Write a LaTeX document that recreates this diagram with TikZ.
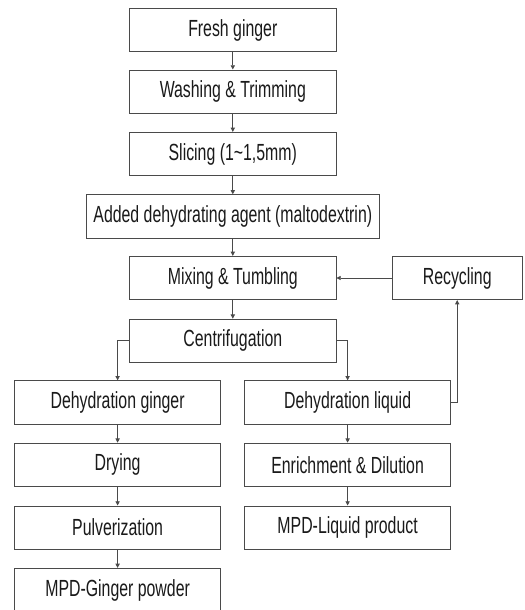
\documentclass[tikz,border=0pt]{standalone}
\usepackage{fontspec}
\setmainfont{Liberation Sans}[FakeStretch=0.68]
\usetikzlibrary{positioning, arrows.meta}
\definecolor{color_line}{HTML}{4A4A4A}
\definecolor{color_text}{HTML}{1A1A1A}
\tikzset{
  step_box/.style={draw=color_line, line width=0.7pt, fill=white, minimum width=5.16cm, minimum height=1.08cm, font=\fontsize{16.6}{18}\selectfont, text=color_text, inner sep=0pt},
  wide_box/.style={step_box, minimum width=7.32cm},
  small_box/.style={step_box, minimum width=3.24cm},
  flow_arrow/.style={-{Triangle[length=3pt, width=3pt]}, draw=color_line, line width=0.6pt},
}
\begin{document}
\begin{tikzpicture}
    \useasboundingbox (0,0) rectangle (13.1,-15.25);
    % main line
    \node[step_box] (fresh) at (5.82, -0.75) {Fresh ginger};
    \node[step_box] (wash) at (5.82, -2.29) {Washing \& Trimming};
    \node[step_box] (slice) at (5.82, -3.85) {Slicing (1\textasciitilde1,5mm)};
    \node[wide_box] (agent) at (5.82, -5.41) {Added dehydrating agent (maltodextrin)};
    \node[step_box] (mix) at (5.82, -6.95) {Mixing \& Tumbling};
    \node[small_box] (recycle) at (11.43, -6.95) {Recycling};
    \node[step_box] (centri) at (5.82, -8.52) {Centrifugation};
    % ginger side
    \node[step_box] (dgin) at (2.94, -10.06) {Dehydration ginger};
    \node[step_box] (dry) at (2.94, -11.62) {Drying};
    \node[step_box] (pulv) at (2.94, -13.19) {Pulverization};
    \node[step_box] (powder) at (2.94, -14.75) {MPD-Ginger powder};
    % liquid side
    \node[step_box] (dliq) at (8.69, -10.06) {Dehydration liquid};
    \node[step_box] (enrich) at (8.69, -11.62) {Enrichment \& Dilution};
    \node[step_box] (lprod) at (8.69, -13.19) {MPD-Liquid product};
    \draw[flow_arrow] (fresh) -- (wash);
    \draw[flow_arrow] (wash) -- (slice);
    \draw[flow_arrow] (slice) -- (agent);
    \draw[flow_arrow] (agent) -- (mix);
    \draw[flow_arrow] (mix) -- (centri);
    \draw[flow_arrow] (recycle) -- (mix);
    \draw[flow_arrow] (centri.west) -| (dgin.north);
    \draw[flow_arrow] (centri.east) -| (dliq.north);
    \draw[flow_arrow] (dliq.east) -| (recycle.south);
    \draw[flow_arrow] (dgin) -- (dry);
    \draw[flow_arrow] (dry) -- (pulv);
    \draw[flow_arrow] (pulv) -- (powder);
    \draw[flow_arrow] (dliq) -- (enrich);
    \draw[flow_arrow] (enrich) -- (lprod);
  \end{tikzpicture}
\end{document}
